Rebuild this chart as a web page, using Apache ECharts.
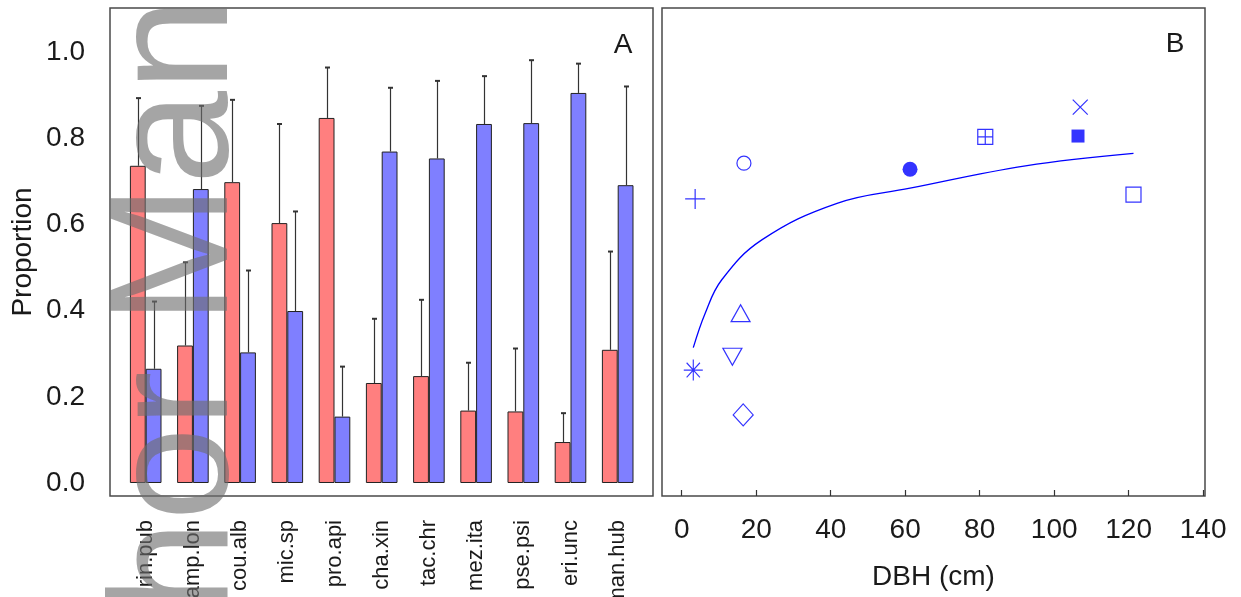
<!DOCTYPE html>
<html><head><meta charset="utf-8">
<script src="https://cdn.jsdelivr.net/npm/echarts@6/dist/echarts.min.js"></script>
<style>html,body{margin:0;padding:0;background:#fff}#c{width:1241px;height:597px}</style>
</head><body><div id="c"></div>
<script>
// ---------- data ----------
const species   = ['rin.pub','amp.lon','cou.alb','mic.sp','pro.api','cha.xin','tac.chr','mez.ita','pse.psi','eri.unc','man.hub'];
const redMean   = [0.736,0.319,0.698,0.603,0.847,0.232,0.248,0.168,0.166,0.095,0.309];
const redUpper  = [0.893,0.512,0.889,0.833,0.964,0.381,0.425,0.279,0.312,0.162,0.537];
const blueMean  = [0.265,0.682,0.303,0.399,0.154,0.769,0.753,0.833,0.835,0.905,0.691];
const blueUpper = [0.421,0.875,0.493,0.630,0.270,0.917,0.933,0.944,0.981,0.973,0.920];
const propTicks = [0,0.2,0.4,0.6,0.8,1.0];
const dbhTicks  = [0,20,40,60,80,100,120,140];
const pointDBH  = [3.6,16.7,61.3,81.5,106.4,107.0,121.3,15.8,13.6,3.1,16.5];
const pointProp = [0.659,0.742,0.728,0.803,0.805,0.872,0.669,0.394,0.293,0.262,0.158];
const pointMarker = ['plus','circleOpen','circleFilled','squarePlus','squareFilled','cross','squareOpen','triangleUp','triangleDown','asterisk','diamond'];
const fitDBH    = [3.1,6.3,10.7,21.5,41.7,61.3,92.3,121.3];
const fitProp   = [0.314,0.394,0.471,0.564,0.649,0.684,0.736,0.765];
const panelLabels = ['A','B'];

// ---------- styles ----------
const FONT = 'Liberation Sans';
const RED = '#ff7f7f', BLUEBAR = '#7f7fff', BLUE = '#0000ff', INK = '#1a1a1a', FRAME = '#4a4a4a';
const BARW = 15.8;
const markerStyle = {
  plus:         {symbol:'path://M0,10L20,10M10,0L10,20', size:20, fill:false},
  circleOpen:   {symbol:'circle', size:14, fill:false},
  circleFilled: {symbol:'circle', size:15, fill:true},
  squarePlus:   {symbol:'path://M0,0L20,0L20,20L0,20ZM10,0L10,20M0,10L20,10', size:15, fill:false},
  squareFilled: {symbol:'rect', size:13, fill:true},
  cross:        {symbol:'path://M0,0L20,20M20,0L0,20', size:15, fill:false},
  squareOpen:   {symbol:'rect', size:15, fill:false},
  triangleUp:   {symbol:'triangle', size:[19,17], fill:false},
  triangleDown: {symbol:'triangle', size:[19,17], fill:false, rotate:180},
  asterisk:     {symbol:'path://M0,10L20,10M10,0L10,20M3,3L17,17M17,3L3,17', size:[19,21], fill:false},
  diamond:      {symbol:'diamond', size:[20,22], fill:false}
};

const Y_MIN = -0.0302, Y_MAX = 1.1021;

function errRender(offset){
  return function(params, api){
    const i = api.value(0), lo = api.value(1), hi = api.value(2);
    const p0 = api.coord([i, lo]), p1 = api.coord([i, hi]);
    const x = Math.round(p0[0] + offset) + 0.5;
    return {type:'group', children:[
      {type:'line', shape:{x1:x, y1:p0[1], x2:x, y2:p1[1]}, style:{stroke:'#333', lineWidth:1.2}},
      {type:'line', shape:{x1:x-2.5, y1:p1[1], x2:x+2.5, y2:p1[1]}, style:{stroke:'#333', lineWidth:2}}
    ]};
  };
}

const chart = echarts.init(document.getElementById('c'), null, {renderer:'canvas'});
const option = {
  animation:false,
  backgroundColor:'#fff',
  grid:[
    {left:122.1, right:599.7, top:8, bottom:101, containLabel:false, outerBoundsMode:'none'},
    {left:662, right:36, top:8, bottom:101, containLabel:false, outerBoundsMode:'none',
     show:true, borderColor:FRAME, borderWidth:1.5, backgroundColor:'transparent'}
  ],
  xAxis:[
    {type:'category', gridIndex:0, data:species, position:'bottom',
     axisLine:{show:false, onZero:false}, axisTick:{show:false},
     axisLabel:{rotate:90, interval:0, margin:24, fontSize:22, fontFamily:FONT, color:INK}},
    {type:'value', gridIndex:1, min:-5.3, max:140.5, position:'bottom',
     name:'DBH (cm)', nameLocation:'middle', nameGap:67,
     nameTextStyle:{fontSize:28, fontFamily:FONT, color:INK},
     axisLine:{show:false, onZero:false}, splitLine:{show:false},
     axisTick:{inside:true, length:6, customValues:dbhTicks, lineStyle:{color:'#333', width:1.2}},
     axisLabel:{customValues:dbhTicks, margin:20, fontSize:28, fontFamily:FONT, color:INK}}
  ],
  yAxis:[
    {type:'value', gridIndex:0, min:Y_MIN, max:Y_MAX, offset:12.1,
     name:'Proportion', nameLocation:'middle', nameGap:73,
     nameTextStyle:{fontSize:28, fontFamily:FONT, color:INK},
     axisLine:{show:false, onZero:false}, splitLine:{show:false},
     axisTick:{inside:true, length:5, customValues:propTicks, lineStyle:{color:'#333', width:1.2}},
     axisLabel:{customValues:propTicks, margin:25, fontSize:28, fontFamily:FONT, color:INK,
                formatter:v=>Number(v).toFixed(1)}},
    {type:'value', gridIndex:1, min:Y_MIN, max:Y_MAX, show:false, splitLine:{show:false}, axisLine:{onZero:false}}
  ],
  series:[
    {type:'bar', xAxisIndex:0, yAxisIndex:0, data:redMean, barWidth:BARW, barGap:'0%',
     itemStyle:{color:RED, borderColor:'#222', borderWidth:1}},
    {type:'bar', xAxisIndex:0, yAxisIndex:0, data:blueMean, barWidth:BARW, barGap:'0%',
     itemStyle:{color:BLUEBAR, borderColor:'#222', borderWidth:1}},
    {type:'custom', xAxisIndex:0, yAxisIndex:0, renderItem:errRender(-BARW/2), z:5,
     encode:{x:0, y:[1,2]}, data:species.map((s,i)=>[i, redMean[i], redUpper[i]])},
    {type:'custom', xAxisIndex:0, yAxisIndex:0, renderItem:errRender(BARW/2), z:5,
     encode:{x:0, y:[1,2]}, data:species.map((s,i)=>[i, blueMean[i], blueUpper[i]])},
    {type:'line', xAxisIndex:1, yAxisIndex:1, data:fitDBH.map((x,i)=>[x, fitProp[i]]),
     smooth:0.4, showSymbol:false, lineStyle:{color:BLUE, width:1.3}},
    {type:'scatter', xAxisIndex:1, yAxisIndex:1,
     data:pointDBH.map((x,i)=>{
       const m = markerStyle[pointMarker[i]];
       return {value:[x, pointProp[i]], symbol:m.symbol, symbolSize:m.size, symbolRotate:m.rotate||0,
               itemStyle:{color:m.fill?BLUE:'none', borderColor:BLUE, borderWidth:m.fill?0:1.2}};
     })}
  ],
  graphic:[
    {type:'rect', shape:{x:110, y:8, width:543, height:488}, style:{fill:'none', stroke:FRAME, lineWidth:1.5}, z:10},
    {type:'text', x:623, y:45, style:{text:panelLabels[0], font:'28px "Liberation Sans"', fill:INK, align:'center', verticalAlign:'middle'}, z:10},
    {type:'text', x:1175, y:44, style:{text:panelLabels[1], font:'28px "Liberation Sans"', fill:INK, align:'center', verticalAlign:'middle'}, z:10},
    {type:'text', x:181, y:614, rotation:Math.PI/2,
     style:{text:'hor Man', font:'168px "Liberation Sans"', fill:'rgba(110,110,110,0.62)', align:'left', verticalAlign:'middle'}, z:100}
  ]
};
chart.setOption(option);
</script></body></html>
